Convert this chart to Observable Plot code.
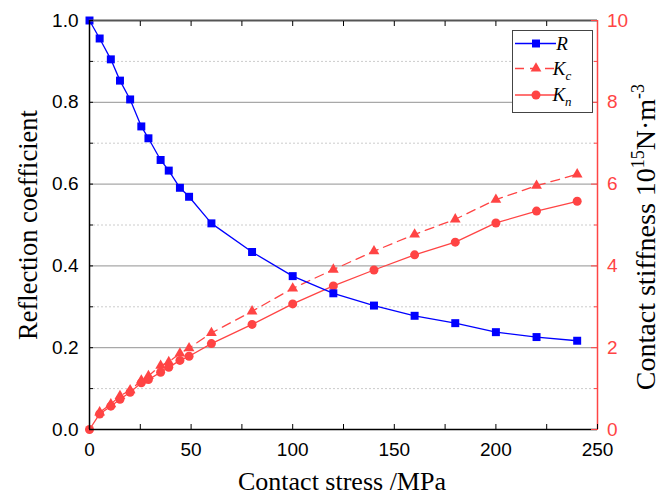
<!DOCTYPE html>
<html><head><meta charset="utf-8">
<script src="https://cdn.jsdelivr.net/npm/d3@7"></script>
<script src="https://cdn.jsdelivr.net/npm/@observablehq/plot@0.6"></script>
<style>body{margin:0;background:#fff}</style>
</head><body><div id="chart"></div>
<script>
// Contact stress (MPa)
const stress = [0, 5, 10.5, 15, 20, 25.5, 29, 35, 39, 44.5, 49, 60, 80, 100, 120, 140, 160, 180, 200, 220, 240];
// Reflection coefficient R
const reflection = [1.0, 0.956, 0.905, 0.853, 0.807, 0.741, 0.712, 0.659, 0.633, 0.591, 0.569, 0.504, 0.434, 0.375, 0.333, 0.303, 0.278, 0.260, 0.238, 0.226, 0.217];
// Contact stiffness Kc (10^15 N·m^-3), starts at 5 MPa
const stressKc = [5, 10.5, 15, 20, 25.5, 29, 35, 39, 44.5, 49, 60, 80, 100, 120, 140, 160, 180, 200, 220, 240];
const stiffnessKc = [0.42, 0.62, 0.82, 0.96, 1.20, 1.31, 1.56, 1.65, 1.86, 1.99, 2.36, 2.89, 3.45, 3.91, 4.36, 4.77, 5.14, 5.62, 5.96, 6.24];
// Contact stiffness Kn (10^15 N·m^-3)
const stiffnessKn = [0, 0.38, 0.57, 0.74, 0.91, 1.14, 1.22, 1.40, 1.52, 1.69, 1.79, 2.10, 2.57, 3.07, 3.51, 3.90, 4.27, 4.58, 5.05, 5.34, 5.58];

const xTicks = [0, 25, 50, 75, 100, 125, 150, 175, 200, 225, 250];
const leftTicks = [0, 0.1, 0.2, 0.3, 0.4, 0.5, 0.6, 0.7, 0.8, 0.9, 1.0];
const rightMajor = [0, 2, 4, 6, 8, 10];
const rightMinor = [1, 3, 5, 7, 9];
const gridMajor = [0.2, 0.4, 0.6, 0.8];
const gridMinor = [0.1, 0.3, 0.5, 0.7, 0.9];

const K_MAX = 10; // right axis maximum (maps onto left 0..1)
const blue = "#0000ff";
const red = "#ff4444";

const dataR = stress.map((s, i) => ({s, v: reflection[i]}));
const dataKc = stressKc.map((s, i) => ({s, v: stiffnessKc[i] / K_MAX}));
const dataKn = stress.map((s, i) => ({s, v: stiffnessKn[i] / K_MAX}));

const plot = Plot.plot({
  width: 662,
  height: 497,
  marginLeft: 89,
  marginRight: 65,
  marginTop: 20,
  marginBottom: 68,
  x: {domain: [0, 250]},
  y: {domain: [0, 1]},
  style: {background: "white", fontFamily: "'Liberation Sans', Arial, sans-serif"},
  marks: [
    Plot.ruleY(gridMinor, {stroke: "#cccccc", strokeDasharray: "2,2"}),
    Plot.ruleY(gridMajor, {stroke: "#a8a8a8", strokeWidth: 1.2}),
    Plot.line(dataKc, {x: "s", y: "v", stroke: red, strokeWidth: 1.3, strokeDasharray: "9,6"}),
    Plot.line(dataKn, {x: "s", y: "v", stroke: red, strokeWidth: 1.3}),
    Plot.line(dataR, {x: "s", y: "v", stroke: blue, strokeWidth: 1.3}),
    Plot.dot(dataKc, {x: "s", y: "v", symbol: "triangle", r: 4, fill: red}),
    Plot.dot(dataKn, {x: "s", y: "v", symbol: "circle", r: 4.5, fill: red}),
    Plot.dot(dataR, {x: "s", y: "v", symbol: "square", r: 4.5, fill: blue}),
    Plot.ruleY([1], {stroke: "#555555", strokeWidth: 2}),
    Plot.ruleY([0], {stroke: "#000000", strokeWidth: 1.5}),
    Plot.ruleX([0], {stroke: "#000000", strokeWidth: 1.5}),
    Plot.ruleX([250], {stroke: red, strokeWidth: 1.5}),
    Plot.axisX({anchor: "bottom", label: null, ticks: xTicks, tickSize: -5, tickPadding: 17.5,
      tickFormat: d => d % 50 === 0 ? String(d) : "", fontSize: 19, fill: "#000", stroke: "#000"}),
    Plot.axisX({anchor: "top", label: null, ticks: xTicks.slice(1, -1), tickSize: -5, tickPadding: 0,
      tickFormat: () => "", stroke: "#000"}),
    Plot.axisY({anchor: "left", label: null, ticks: leftTicks, tickSize: -4, tickPadding: 15,
      tickFormat: d => Math.round(d * 10) % 2 === 0 ? d.toFixed(1) : "", fontSize: 19, fill: "#000", stroke: "#000"}),
    Plot.axisY({anchor: "right", label: null, ticks: rightMajor.map(k => k / K_MAX), tickSize: -7, tickPadding: 16.5,
      tickFormat: d => String(Math.round(d * K_MAX)), fontSize: 19, fill: red, stroke: red}),
    Plot.axisY({anchor: "right", label: null, ticks: rightMinor.map(k => k / K_MAX), tickSize: -4, tickPadding: 0,
      tickFormat: () => "", stroke: red})
  ]
});

const svg = d3.select(plot);
const serif = "'Liberation Serif', 'Times New Roman', serif";

// Axis titles
svg.append("text").attr("x", 342).attr("y", 490).attr("text-anchor", "middle")
  .attr("font-family", serif).attr("font-size", 26).attr("fill", "#000").text("Contact stress /MPa");
svg.append("text").attr("transform", "translate(37,225) rotate(-90)").attr("text-anchor", "middle")
  .attr("font-family", serif).attr("font-size", 26.5).attr("fill", "#000").text("Reflection coefficient");
const rt = svg.append("text").attr("transform", "translate(655,237) rotate(-90)").attr("text-anchor", "middle")
  .attr("font-family", serif).attr("font-size", 28).attr("fill", "#000");
rt.append("tspan").text("Contact stiffness 10");
rt.append("tspan").attr("font-size", 18).attr("dy", -11).text("15");
rt.append("tspan").attr("dy", 11).text("N·m");
rt.append("tspan").attr("font-size", 18).attr("dy", -11).text("-3");

// Legend
const lg = svg.append("g");
lg.append("rect").attr("x", 512.5).attr("y", 30.5).attr("width", 80).attr("height", 82)
  .attr("fill", "#fff").attr("stroke", "#444").attr("stroke-width", 1);
const entries = [
  {y: 43.5, color: blue, dash: null, sym: d3.symbolSquare, size: Math.PI * 4.5 * 4.5, sub: null, main: "R"},
  {y: 68.5, color: red, dash: "9,6", sym: d3.symbolTriangle, size: Math.PI * 16, sub: "c", main: "K"},
  {y: 95, color: red, dash: null, sym: d3.symbolCircle, size: Math.PI * 4.5 * 4.5, sub: "n", main: "K"}
];
entries.forEach(e => {
  lg.append("line").attr("x1", 515).attr("x2", 556).attr("y1", e.y).attr("y2", e.y)
    .attr("stroke", e.color).attr("stroke-width", 1.3).attr("stroke-dasharray", e.dash);
  lg.append("path").attr("d", d3.symbol(e.sym, e.size)()).attr("transform", `translate(536,${e.y})`).attr("fill", e.color);
  const t = lg.append("text").attr("x", 562).attr("y", e.y + 6).attr("font-family", serif)
    .attr("font-style", "italic").attr("font-size", 19).attr("fill", "#000");
  t.append("tspan").text(e.main);
  if (e.sub) t.append("tspan").attr("font-size", 13).attr("dy", 5).text(e.sub);
});

document.getElementById("chart").appendChild(plot);
</script>
</body></html>
